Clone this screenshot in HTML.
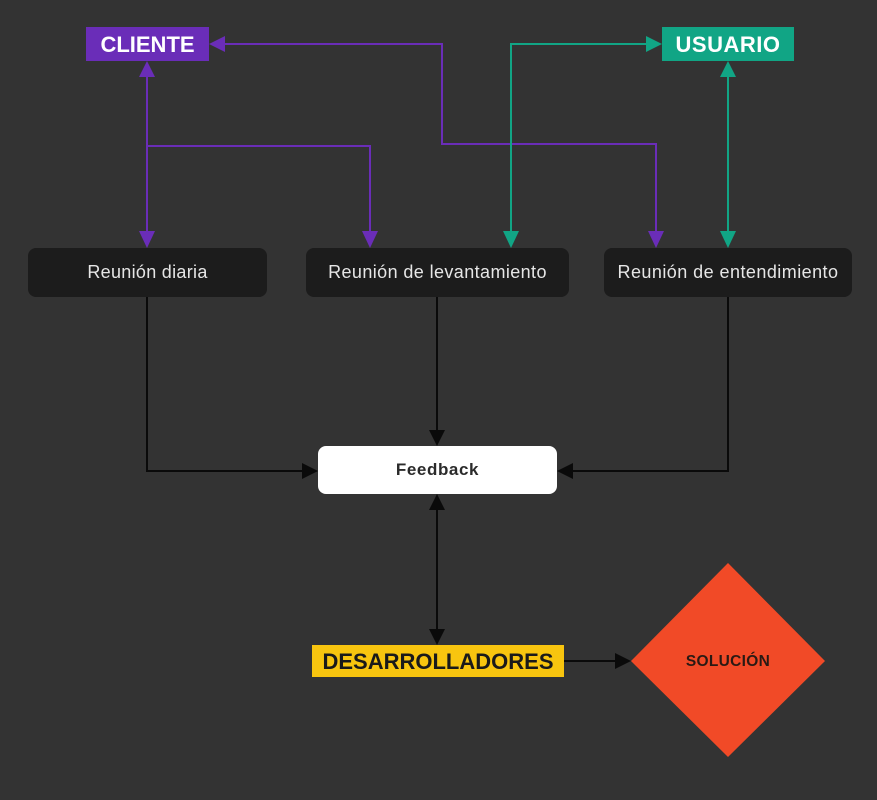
<!DOCTYPE html>
<html><head><meta charset="utf-8"><style>
html,body{margin:0;padding:0;background:#333333;}
svg{display:block;}
</style></head><body>
<svg width="877" height="800" viewBox="0 0 877 800" xmlns="http://www.w3.org/2000/svg">
<rect x="0" y="0" width="877" height="800" fill="#333333"/>
<!-- purple lines -->
<g stroke="#6a2db8" stroke-width="2" fill="none">
<polyline points="224,44 442,44 442,144 656,144 656,232"/>
<polyline points="147,76 147,232"/>
<polyline points="147,146 370,146 370,232"/>
</g>
<g fill="#6a2db8">
<polygon points="209,44 225,36 225,52"/>
<polygon points="147,61 139,77 155,77"/>
<polygon points="147,248 139,231 155,231"/>
<polygon points="370,248 362,231 378,231"/>
<polygon points="656,248 648,231 664,231"/>
</g>
<!-- green lines -->
<g stroke="#11a585" stroke-width="2" fill="none">
<polyline points="647,44 511,44 511,232"/>
<polyline points="728,76 728,232"/>
</g>
<g fill="#11a585">
<polygon points="662,44 646,36 646,52"/>
<polygon points="511,248 503,231 519,231"/>
<polygon points="728,61 720,77 736,77"/>
<polygon points="728,248 720,231 736,231"/>
</g>
<!-- black lines -->
<g stroke="#0a0a0a" stroke-width="2" fill="none">
<polyline points="147,297 147,471 302,471"/>
<polyline points="437,297 437,430"/>
<polyline points="728,297 728,471 573,471"/>
<polyline points="437,510 437,629"/>
<polyline points="564,661 615,661"/>
</g>
<g fill="#0a0a0a">
<polygon points="318,471 302,463 302,479"/>
<polygon points="437,446 429,430 445,430"/>
<polygon points="557,471 573,463 573,479"/>
<polygon points="437,494 429,510 445,510"/>
<polygon points="437,645 429,629 445,629"/>
<polygon points="631,661 615,653 615,669"/>
</g>
<!-- top labels -->
<rect x="86" y="27" width="123" height="34" fill="#6a2db8"/>
<text x="147.5" y="52" text-anchor="middle" font-family="Liberation Sans, sans-serif" font-weight="bold" font-size="22" fill="#ffffff">CLIENTE</text>
<rect x="662" y="27" width="132" height="34" fill="#11a585"/>
<text x="728" y="52" text-anchor="middle" font-family="Liberation Sans, sans-serif" font-weight="bold" font-size="22" fill="#ffffff" letter-spacing="0.5">USUARIO</text>
<!-- meeting boxes -->
<rect x="28" y="248" width="239" height="49" rx="8" fill="#1c1c1c"/>
<text x="147.5" y="278" text-anchor="middle" font-family="Liberation Sans, sans-serif" font-size="18" fill="#e6e6e6" letter-spacing="0.3">Reunión diaria</text>
<rect x="306" y="248" width="263" height="49" rx="8" fill="#1c1c1c"/>
<text x="437.5" y="278" text-anchor="middle" font-family="Liberation Sans, sans-serif" font-size="18" fill="#e6e6e6" letter-spacing="0.4">Reunión de levantamiento</text>
<rect x="604" y="248" width="248" height="49" rx="8" fill="#1c1c1c"/>
<text x="728" y="278" text-anchor="middle" font-family="Liberation Sans, sans-serif" font-size="18" fill="#e6e6e6" letter-spacing="0.45">Reunión de entendimiento</text>
<!-- feedback -->
<rect x="318" y="446" width="239" height="48" rx="8" fill="#ffffff"/>
<text x="437.5" y="475" text-anchor="middle" font-family="Liberation Sans, sans-serif" font-weight="bold" font-size="17" fill="#2b2b2b" letter-spacing="0.6">Feedback</text>
<!-- desarrolladores -->
<rect x="312" y="645" width="252" height="32" fill="#f8c50f"/>
<text x="438" y="669" text-anchor="middle" font-family="Liberation Sans, sans-serif" font-weight="bold" font-size="22" fill="#1a1a1a">DESARROLLADORES</text>
<!-- solucion -->
<polygon points="728,563 825,661 728,757 631,661" fill="#f14a27"/>
<text x="728" y="666" text-anchor="middle" font-family="Liberation Sans, sans-serif" font-weight="bold" font-size="15.5" fill="#2a1a14" letter-spacing="0.3">SOLUCIÓN</text>
</svg>
</body></html>
